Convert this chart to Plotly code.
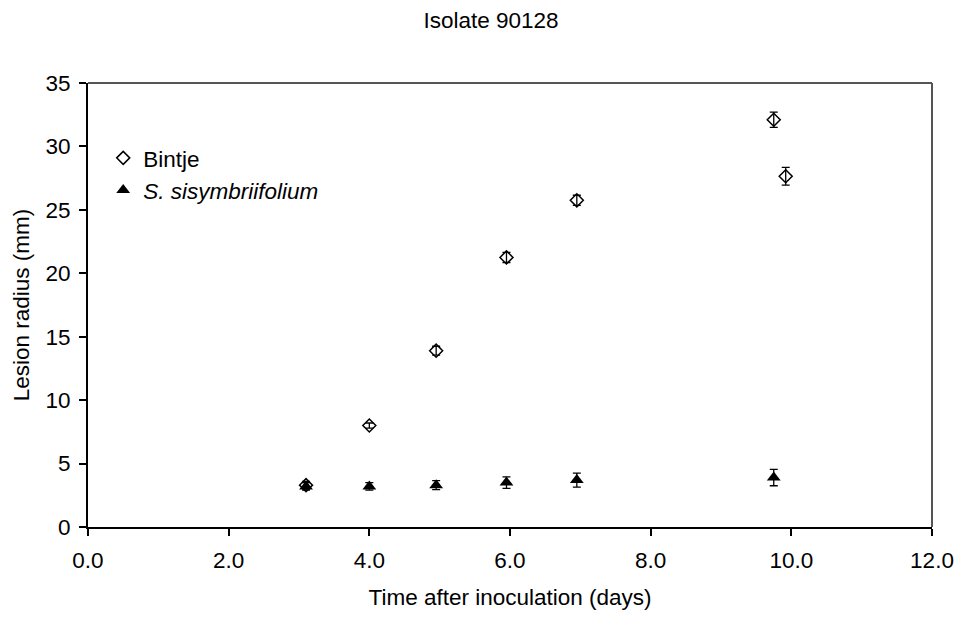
import plotly.graph_objects as go

# Lesion radius over time, isolate 90128
bintje_days = [3.1, 4.0, 4.95, 5.95, 6.95, 9.75, 9.92]
bintje_radius = [3.3, 8.0, 13.9, 21.25, 25.75, 32.1, 27.65]
bintje_err = [0.3, 0.2, 0.35, 0.4, 0.4, 0.6, 0.7]

sis_days = [3.1, 4.0, 4.95, 5.95, 6.95, 9.75]
sis_radius = [3.2, 3.2, 3.3, 3.5, 3.7, 3.9]
sis_err = [0.3, 0.3, 0.35, 0.45, 0.55, 0.65]

x_ticks = [0, 2, 4, 6, 8, 10, 12]
y_ticks = [0, 5, 10, 15, 20, 25, 30, 35]

font = "Arial, 'Liberation Sans', sans-serif"
fsize = 22.5

fig = go.Figure()

fig.add_trace(go.Scatter(
    x=bintje_days, y=bintje_radius, mode='markers', name='Bintje',
    marker=dict(symbol='diamond-open', size=10, color='black', line=dict(width=1.5, color='black')),
    error_y=dict(type='data', array=bintje_err, color='black', thickness=1.3, width=4),
))
fig.add_trace(go.Scatter(
    x=sis_days, y=sis_radius, mode='markers', name='<i>S. sisymbriifolium</i>',
    marker=dict(symbol='triangle-up', size=12, color='black'),
    error_y=dict(type='data', array=sis_err, color='black', thickness=1.3, width=4),
))

# grey frame on top and right
fig.add_shape(type='line', xref='paper', yref='paper', x0=0, x1=1, y0=1, y1=1,
              line=dict(color='#555555', width=2))
fig.add_shape(type='line', xref='paper', yref='paper', x0=1, x1=1, y0=0, y1=1,
              line=dict(color='#555555', width=2))

fig.update_xaxes(
    range=[0, 12], tickvals=x_ticks, ticktext=[f'{v:.1f}' for v in x_ticks],
    showline=True, linecolor='black', linewidth=2, showgrid=False, zeroline=False,
    ticks='outside', ticklen=7, tickwidth=1.5, tickcolor='black', automargin=False,
    tickfont=dict(size=fsize), ticklabelstandoff=5,
    title=dict(text='Time after inoculation (days)', standoff=17, font=dict(size=fsize)),
)
fig.update_yaxes(
    range=[0, 35], tickvals=y_ticks,
    showline=True, linecolor='black', linewidth=2, showgrid=False, zeroline=False,
    ticks='outside', ticklen=7, tickwidth=1.5, tickcolor='black', automargin=False,
    tickfont=dict(size=fsize), ticklabelstandoff=4,
    title=dict(text='Lesion radius (mm)', standoff=10, font=dict(size=fsize)),
)

fig.update_layout(
    width=958, height=617,
    margin=dict(l=88, r=26, t=83, b=90),
    paper_bgcolor='white', plot_bgcolor='white',
    font=dict(family=font, size=fsize, color='black'),
    title=dict(text='Isolate 90128', x=0.5125, xanchor='center', y=0.967, yanchor='middle',
               font=dict(size=fsize)),
    legend=dict(x=0.018, y=0.879, xanchor='left', yanchor='top', bgcolor='rgba(0,0,0,0)',
                font=dict(size=fsize), tracegroupgap=0),
)

# drop the default page margin so the figure sits at the window's corner
fig.write_html("out.html", config={'displayModeBar': False},
               post_script="document.body.style.margin='0';")
